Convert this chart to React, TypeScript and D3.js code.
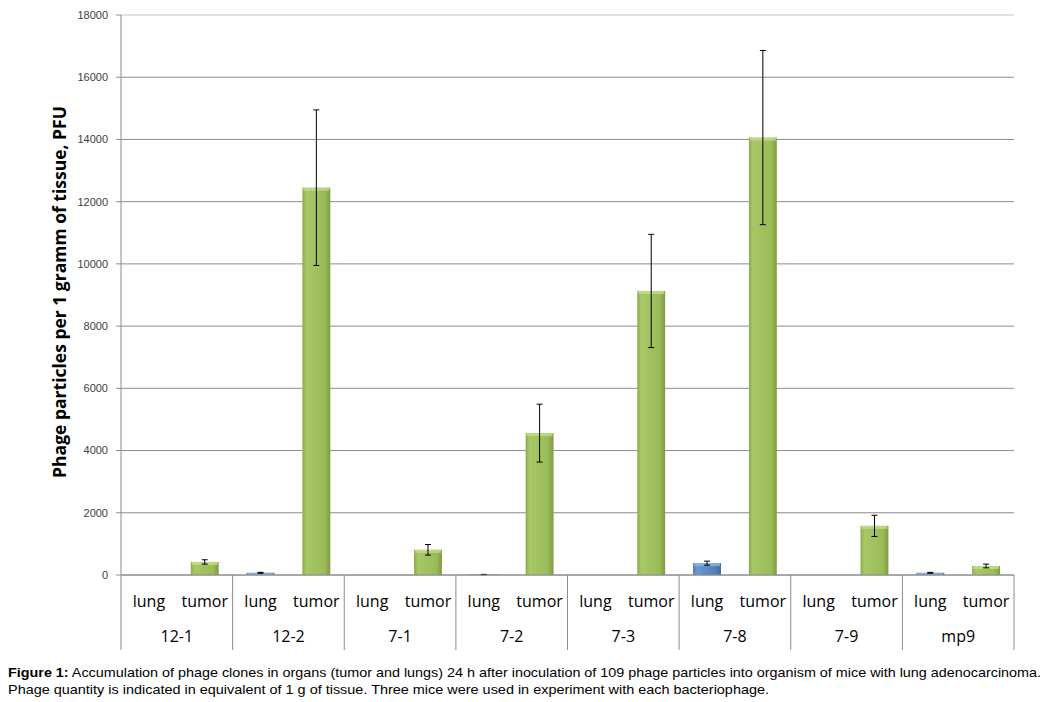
import React from 'react';
import * as d3 from 'd3';

const groups = ['12-1', '12-2', '7-1', '7-2', '7-3', '7-8', '7-9', 'mp9'];
const organs = ['lung', 'tumor'];
const lungValues = [0, 70, 0, 15, 0, 380, 0, 70];
const lungErrors = [0, 15, 0, 5, 0, 65, 0, 15];
const tumorValues = [420, 12450, 810, 4560, 9130, 14060, 1580, 290];
const tumorErrors = [70, 2500, 170, 930, 1820, 2800, 340, 60];
const yTicks = [0, 2000, 4000, 6000, 8000, 10000, 12000, 14000, 16000, 18000];

const W = 1047;
const H = 702;
const plot = { left: 121, right: 1014, top: 15, bottom: 575 };

const App: React.FC = () => {
  const x0 = d3.scaleBand().domain(groups).range([plot.left, plot.right]).padding(0);
  const x1 = d3.scaleBand().domain(organs).range([0, x0.bandwidth()]).padding(0);
  const y = d3.scaleLinear().domain([0, 18000]).range([plot.bottom, plot.top]);
  const barW = x1.bandwidth() * 0.5;

  const bars = groups.flatMap((g, i) => [
    { group: g, organ: 'lung', value: lungValues[i], err: lungErrors[i] },
    { group: g, organ: 'tumor', value: tumorValues[i], err: tumorErrors[i] },
  ]);

  const font = "'Open Sans', 'Noto Sans', sans-serif";

  return (
    <svg width={W} height={H} style={{ position: 'absolute', left: 0, top: 0, background: '#fff' }}>
      <defs>
        <linearGradient id="gTumor" x1="0" x2="1" y1="0" y2="0">
          <stop offset="0%" stopColor="#8aab4b" />
          <stop offset="14%" stopColor="#a8c867" />
          <stop offset="80%" stopColor="#9bbb59" />
          <stop offset="100%" stopColor="#7e9b42" />
        </linearGradient>
        <linearGradient id="gLung" x1="0" x2="1" y1="0" y2="0">
          <stop offset="0%" stopColor="#4a79b3" />
          <stop offset="14%" stopColor="#6a98cf" />
          <stop offset="80%" stopColor="#4f81bd" />
          <stop offset="100%" stopColor="#3d6a9f" />
        </linearGradient>
      </defs>

      {/* gridlines */}
      {yTicks.map(t => (
        <line key={'g' + t} x1={plot.left} x2={plot.right} y1={y(t)} y2={y(t)}
          stroke={t === 18000 ? '#c4c4c4' : '#8c8c8c'} strokeWidth={1} />
      ))}

      {/* y axis */}
      <line x1={plot.left} x2={plot.left} y1={plot.top} y2={650} stroke="#8c8c8c" />
      {yTicks.map(t => (
        <g key={'t' + t}>
          <line x1={plot.left - 5} x2={plot.left} y1={y(t)} y2={y(t)} stroke="#8c8c8c" />
          <text x={108} y={y(t)} dy="0.35em" textAnchor="end" fontSize={11}
            fontFamily="'Liberation Sans', Arial, sans-serif" fill="#404040">{t}</text>
        </g>
      ))}
      <text transform={`translate(66,292) rotate(-90)`} textAnchor="middle" fontSize={17.5}
        fontWeight={700} fontFamily={font} fill="#000">Phage particles per 1 gramm of tissue, PFU</text>

      {/* bars */}
      {bars.map((b, i) => {
        const cx = x0(b.group)! + x1(b.organ)! + x1.bandwidth() / 2;
        if (b.value <= 0) return null;
        return (
          <g key={'b' + i}>
            <rect x={cx - barW / 2} y={y(b.value)} width={barW} height={y(0) - y(b.value)}
              fill={b.organ === 'lung' ? 'url(#gLung)' : 'url(#gTumor)'} />
            <rect x={cx - barW / 2 + 1} y={y(b.value)} width={barW - 2} height={Math.min(3, y(0) - y(b.value))}
              fill={b.organ === 'lung' ? '#8fb4e0' : '#c4dc8c'} opacity={0.8} />
          </g>
        );
      })}

      {/* error bars */}
      {bars.map((b, i) => {
        if (b.value <= 0) return null;
        const cx = x0(b.group)! + x1(b.organ)! + x1.bandwidth() / 2;
        const yt = y(b.value + b.err);
        const yb = y(Math.max(0, b.value - b.err));
        return (
          <g key={'e' + i} stroke="#000" strokeWidth={1}>
            <line x1={cx} x2={cx} y1={yt} y2={yb} />
            <line x1={cx - 3} x2={cx + 3} y1={yt} y2={yt} />
            <line x1={cx - 3} x2={cx + 3} y1={yb} y2={yb} />
          </g>
        );
      })}

      {/* x axis */}
      <line x1={plot.left} x2={plot.right} y1={plot.bottom} y2={plot.bottom} stroke="#8c8c8c" />
      {groups.map(g => (
        <line key={'s' + g} x1={x0(g)! + x0.bandwidth()} x2={x0(g)! + x0.bandwidth()} y1={plot.bottom} y2={650} stroke="#8c8c8c" />
      ))}
      {groups.map(g => (
        <g key={'l' + g}>
          {organs.map(o => (
            <text key={o} x={x0(g)! + x1(o)! + x1.bandwidth() / 2} y={607} textAnchor="middle"
              fontSize={16} fontFamily={font} fill="#000">{o}</text>
          ))}
          <text x={x0(g)! + x0.bandwidth() / 2} y={642} textAnchor="middle"
            fontSize={16} fontFamily={font} fill="#000">{g}</text>
        </g>
      ))}

      {/* caption */}
      <text x={8} y={677} fontSize={13} fontFamily="'Liberation Sans', Arial, sans-serif" fill="#000"
        textLength={1033} lengthAdjust="spacingAndGlyphs">
        <tspan fontWeight={700}>Figure 1:</tspan> Accumulation of phage clones in organs (tumor and lungs) 24 h after inoculation of 109 phage particles into organism of mice with lung adenocarcinoma.
      </text>
      <text x={8} y={694} fontSize={13} fontFamily="'Liberation Sans', Arial, sans-serif" fill="#000"
        textLength={761} lengthAdjust="spacingAndGlyphs">
        Phage quantity is indicated in equivalent of 1 g of tissue. Three mice were used in experiment with each bacteriophage.
      </text>
    </svg>
  );
};

export default App;
